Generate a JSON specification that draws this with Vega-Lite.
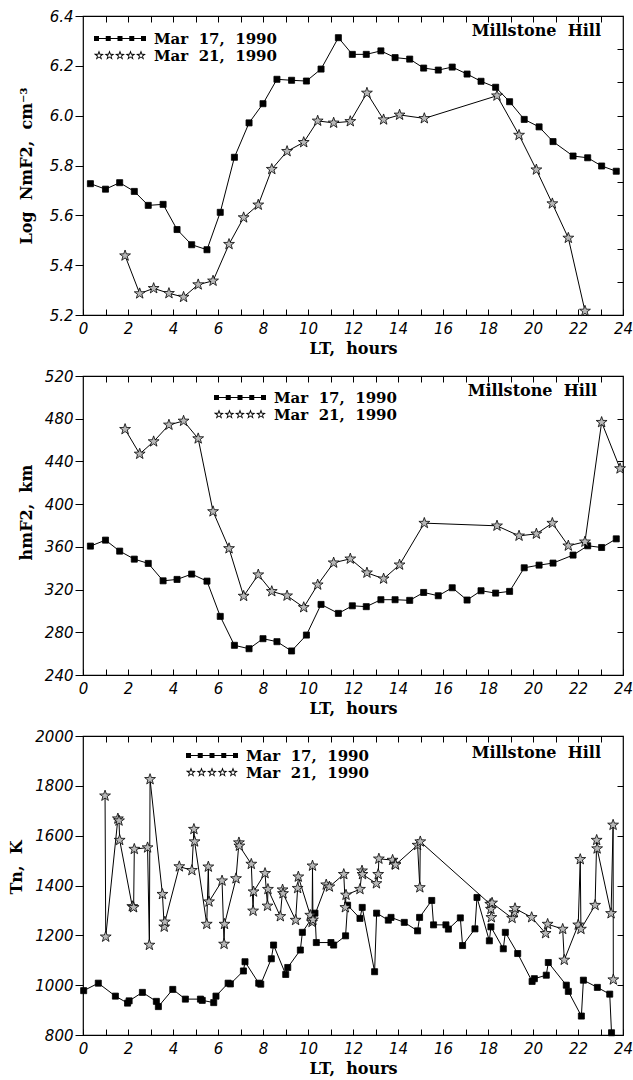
{
  "$schema": "https://vega.github.io/schema/vega-lite/v6.json",
  "background": "white",
  "padding": {"left": 7, "top": 8, "right": 4, "bottom": 4},
  "bounds": "flush",
  "spacing": 61,
  "resolve": {"scale": {"shape": "independent", "fill": "independent"}, "legend": {"shape": "independent", "fill": "independent"}},
  "config": {
    "view": {"stroke": "black", "strokeWidth": 1.2},
    "axis": {
      "labelFont": "DejaVu Sans", "labelFontStyle": "italic", "labelFontSize": 15, "labelColor": "black",
      "titleFont": "DejaVu Serif", "titleFontWeight": "bold", "titleFontSize": 16, "titleColor": "black",
      "tickColor": "black", "tickWidth": 1, "grid": false, "domain": false, "labelFlush": false, "labelOverlap": false
    },
    "title": {"font": "DejaVu Serif", "fontWeight": "bold", "fontSize": 16, "color": "black"},
    "legend": {"labelFont": "DejaVu Serif", "labelFontWeight": "bold", "labelFontSize": 15, "labelColor": "black"}
  },
  "datasets": {
    "p1": [
      {"date":"Mar 17, 1990","lt":0.33,"v":5.727},{"date":"Mar 17, 1990","lt":1.0,"v":5.705},{"date":"Mar 17, 1990","lt":1.63,"v":5.731},
      {"date":"Mar 17, 1990","lt":2.28,"v":5.696},{"date":"Mar 17, 1990","lt":2.9,"v":5.64},{"date":"Mar 17, 1990","lt":3.56,"v":5.644},
      {"date":"Mar 17, 1990","lt":4.18,"v":5.543},{"date":"Mar 17, 1990","lt":4.83,"v":5.482},{"date":"Mar 17, 1990","lt":5.51,"v":5.462},
      {"date":"Mar 17, 1990","lt":6.1,"v":5.612},{"date":"Mar 17, 1990","lt":6.73,"v":5.833},{"date":"Mar 17, 1990","lt":7.38,"v":5.971},
      {"date":"Mar 17, 1990","lt":8.0,"v":6.048},{"date":"Mar 17, 1990","lt":8.62,"v":6.146},{"date":"Mar 17, 1990","lt":9.27,"v":6.142},
      {"date":"Mar 17, 1990","lt":9.93,"v":6.139},{"date":"Mar 17, 1990","lt":10.58,"v":6.187},{"date":"Mar 17, 1990","lt":11.35,"v":6.313},
      {"date":"Mar 17, 1990","lt":11.97,"v":6.246},{"date":"Mar 17, 1990","lt":12.59,"v":6.246},{"date":"Mar 17, 1990","lt":13.24,"v":6.26},
      {"date":"Mar 17, 1990","lt":13.87,"v":6.233},{"date":"Mar 17, 1990","lt":14.52,"v":6.227},{"date":"Mar 17, 1990","lt":15.14,"v":6.191},
      {"date":"Mar 17, 1990","lt":15.79,"v":6.183},{"date":"Mar 17, 1990","lt":16.41,"v":6.195},{"date":"Mar 17, 1990","lt":17.07,"v":6.167},
      {"date":"Mar 17, 1990","lt":17.69,"v":6.138},{"date":"Mar 17, 1990","lt":18.34,"v":6.114},{"date":"Mar 17, 1990","lt":18.96,"v":6.056},
      {"date":"Mar 17, 1990","lt":19.61,"v":5.985},{"date":"Mar 17, 1990","lt":20.27,"v":5.955},{"date":"Mar 17, 1990","lt":20.89,"v":5.896},
      {"date":"Mar 17, 1990","lt":21.78,"v":5.838},{"date":"Mar 17, 1990","lt":22.43,"v":5.831},{"date":"Mar 17, 1990","lt":23.05,"v":5.798},
      {"date":"Mar 17, 1990","lt":23.7,"v":5.777},
      {"date":"Mar 21, 1990","lt":1.87,"v":5.438},{"date":"Mar 21, 1990","lt":2.52,"v":5.286},{"date":"Mar 21, 1990","lt":3.14,"v":5.307},
      {"date":"Mar 21, 1990","lt":3.82,"v":5.287},{"date":"Mar 21, 1990","lt":4.47,"v":5.272},{"date":"Mar 21, 1990","lt":5.12,"v":5.322},
      {"date":"Mar 21, 1990","lt":5.78,"v":5.337},{"date":"Mar 21, 1990","lt":6.49,"v":5.484},{"date":"Mar 21, 1990","lt":7.14,"v":5.591},
      {"date":"Mar 21, 1990","lt":7.79,"v":5.642},{"date":"Mar 21, 1990","lt":8.39,"v":5.785},{"date":"Mar 21, 1990","lt":9.07,"v":5.857},
      {"date":"Mar 21, 1990","lt":9.81,"v":5.893},{"date":"Mar 21, 1990","lt":10.43,"v":5.979},{"date":"Mar 21, 1990","lt":11.14,"v":5.971},
      {"date":"Mar 21, 1990","lt":11.88,"v":5.977},{"date":"Mar 21, 1990","lt":12.62,"v":6.091},{"date":"Mar 21, 1990","lt":13.36,"v":5.984},
      {"date":"Mar 21, 1990","lt":14.07,"v":6.003},{"date":"Mar 21, 1990","lt":15.17,"v":5.989},{"date":"Mar 21, 1990","lt":18.4,"v":6.08},
      {"date":"Mar 21, 1990","lt":19.38,"v":5.922},{"date":"Mar 21, 1990","lt":20.15,"v":5.783},{"date":"Mar 21, 1990","lt":20.86,"v":5.647},
      {"date":"Mar 21, 1990","lt":21.57,"v":5.509},{"date":"Mar 21, 1990","lt":22.31,"v":5.216}
    ],
    "p2": [
      {"date":"Mar 17, 1990","lt":0.33,"v":360.7},{"date":"Mar 17, 1990","lt":1.0,"v":366.3},{"date":"Mar 17, 1990","lt":1.63,"v":356},
      {"date":"Mar 17, 1990","lt":2.28,"v":348.5},{"date":"Mar 17, 1990","lt":2.9,"v":344.5},{"date":"Mar 17, 1990","lt":3.56,"v":328.2},
      {"date":"Mar 17, 1990","lt":4.18,"v":329.5},{"date":"Mar 17, 1990","lt":4.83,"v":334.5},{"date":"Mar 17, 1990","lt":5.51,"v":327.9},
      {"date":"Mar 17, 1990","lt":6.1,"v":294.9},{"date":"Mar 17, 1990","lt":6.73,"v":267.8},{"date":"Mar 17, 1990","lt":7.38,"v":264.6},
      {"date":"Mar 17, 1990","lt":8.0,"v":274},{"date":"Mar 17, 1990","lt":8.62,"v":271.2},{"date":"Mar 17, 1990","lt":9.27,"v":262.5},
      {"date":"Mar 17, 1990","lt":9.93,"v":277.4},{"date":"Mar 17, 1990","lt":10.58,"v":306.1},{"date":"Mar 17, 1990","lt":11.35,"v":297.7},
      {"date":"Mar 17, 1990","lt":11.97,"v":304.8},{"date":"Mar 17, 1990","lt":12.59,"v":304},{"date":"Mar 17, 1990","lt":13.24,"v":310.5},
      {"date":"Mar 17, 1990","lt":13.87,"v":310.5},{"date":"Mar 17, 1990","lt":14.52,"v":309.9},{"date":"Mar 17, 1990","lt":15.14,"v":317.3},
      {"date":"Mar 17, 1990","lt":15.79,"v":314.2},{"date":"Mar 17, 1990","lt":16.41,"v":321.7},{"date":"Mar 17, 1990","lt":17.07,"v":310.2},
      {"date":"Mar 17, 1990","lt":17.69,"v":318.9},{"date":"Mar 17, 1990","lt":18.34,"v":316.7},{"date":"Mar 17, 1990","lt":18.96,"v":318.3},
      {"date":"Mar 17, 1990","lt":19.61,"v":340.4},{"date":"Mar 17, 1990","lt":20.27,"v":342.9},{"date":"Mar 17, 1990","lt":20.89,"v":344.8},
      {"date":"Mar 17, 1990","lt":21.78,"v":352.3},{"date":"Mar 17, 1990","lt":22.43,"v":361},{"date":"Mar 17, 1990","lt":23.05,"v":359.4},
      {"date":"Mar 17, 1990","lt":23.7,"v":367.5},
      {"date":"Mar 21, 1990","lt":1.87,"v":470.1},{"date":"Mar 21, 1990","lt":2.52,"v":447},{"date":"Mar 21, 1990","lt":3.14,"v":458.6},
      {"date":"Mar 21, 1990","lt":3.82,"v":474.2},{"date":"Mar 21, 1990","lt":4.47,"v":477.9},{"date":"Mar 21, 1990","lt":5.12,"v":461.4},
      {"date":"Mar 21, 1990","lt":5.78,"v":393.1},{"date":"Mar 21, 1990","lt":6.49,"v":358.5},{"date":"Mar 21, 1990","lt":7.14,"v":313.9},
      {"date":"Mar 21, 1990","lt":7.79,"v":333.9},{"date":"Mar 21, 1990","lt":8.39,"v":318.3},{"date":"Mar 21, 1990","lt":9.07,"v":314.2},
      {"date":"Mar 21, 1990","lt":9.81,"v":303.3},{"date":"Mar 21, 1990","lt":10.43,"v":324.5},{"date":"Mar 21, 1990","lt":11.14,"v":345.1},
      {"date":"Mar 21, 1990","lt":11.88,"v":348.8},{"date":"Mar 21, 1990","lt":12.62,"v":335.7},{"date":"Mar 21, 1990","lt":13.36,"v":330.1},
      {"date":"Mar 21, 1990","lt":14.07,"v":343.2},{"date":"Mar 21, 1990","lt":15.17,"v":382.2},{"date":"Mar 21, 1990","lt":18.4,"v":379.7},
      {"date":"Mar 21, 1990","lt":19.38,"v":370.3},{"date":"Mar 21, 1990","lt":20.15,"v":372.2},{"date":"Mar 21, 1990","lt":20.86,"v":382.2},
      {"date":"Mar 21, 1990","lt":21.57,"v":361},{"date":"Mar 21, 1990","lt":22.31,"v":364.7},{"date":"Mar 21, 1990","lt":23.05,"v":476.7},
      {"date":"Mar 21, 1990","lt":23.87,"v":433.3}
    ],
    "p3": [
      {"date":"Mar 17, 1990","i":1,"lt":0.03,"v":978},{"date":"Mar 17, 1990","i":2,"lt":0.68,"v":1008},{"date":"Mar 17, 1990","i":3,"lt":1.44,"v":956},
      {"date":"Mar 17, 1990","i":4,"lt":1.98,"v":928},{"date":"Mar 17, 1990","i":5,"lt":2.05,"v":937},{"date":"Mar 17, 1990","i":6,"lt":2.64,"v":971},
      {"date":"Mar 17, 1990","i":7,"lt":3.26,"v":935},{"date":"Mar 17, 1990","i":8,"lt":3.35,"v":914},{"date":"Mar 17, 1990","i":9,"lt":3.99,"v":983},
      {"date":"Mar 17, 1990","i":10,"lt":4.55,"v":944},{"date":"Mar 17, 1990","i":11,"lt":5.22,"v":944},{"date":"Mar 17, 1990","i":12,"lt":5.3,"v":939},
      {"date":"Mar 17, 1990","i":13,"lt":5.81,"v":930},{"date":"Mar 17, 1990","i":14,"lt":5.91,"v":956},{"date":"Mar 17, 1990","i":15,"lt":6.45,"v":1008},
      {"date":"Mar 17, 1990","i":16,"lt":6.55,"v":1005},{"date":"Mar 17, 1990","i":17,"lt":7.13,"v":1057},{"date":"Mar 17, 1990","i":18,"lt":7.2,"v":1094},
      {"date":"Mar 17, 1990","i":19,"lt":7.81,"v":1008},{"date":"Mar 17, 1990","i":20,"lt":7.9,"v":1004},{"date":"Mar 17, 1990","i":21,"lt":8.37,"v":1106},
      {"date":"Mar 17, 1990","i":22,"lt":8.47,"v":1161},{"date":"Mar 17, 1990","i":23,"lt":9.01,"v":1043},{"date":"Mar 17, 1990","i":24,"lt":9.1,"v":1071},
      {"date":"Mar 17, 1990","i":25,"lt":9.66,"v":1141},{"date":"Mar 17, 1990","i":26,"lt":9.75,"v":1212},{"date":"Mar 17, 1990","i":27,"lt":10.31,"v":1289},
      {"date":"Mar 17, 1990","i":28,"lt":10.37,"v":1171},{"date":"Mar 17, 1990","i":29,"lt":11.02,"v":1171},{"date":"Mar 17, 1990","i":30,"lt":11.14,"v":1161},
      {"date":"Mar 17, 1990","i":31,"lt":11.67,"v":1198},{"date":"Mar 17, 1990","i":32,"lt":11.76,"v":1321},{"date":"Mar 17, 1990","i":33,"lt":12.31,"v":1268},
      {"date":"Mar 17, 1990","i":34,"lt":12.41,"v":1312},{"date":"Mar 17, 1990","i":35,"lt":12.96,"v":1054},{"date":"Mar 17, 1990","i":36,"lt":13.05,"v":1289},
      {"date":"Mar 17, 1990","i":37,"lt":13.57,"v":1261},{"date":"Mar 17, 1990","i":38,"lt":13.69,"v":1272},{"date":"Mar 17, 1990","i":39,"lt":14.28,"v":1252},
      {"date":"Mar 17, 1990","i":40,"lt":14.87,"v":1218},{"date":"Mar 17, 1990","i":41,"lt":14.96,"v":1272},{"date":"Mar 17, 1990","i":42,"lt":15.5,"v":1340},
      {"date":"Mar 17, 1990","i":43,"lt":15.58,"v":1242},{"date":"Mar 17, 1990","i":44,"lt":16.13,"v":1242},{"date":"Mar 17, 1990","i":45,"lt":16.24,"v":1225},
      {"date":"Mar 17, 1990","i":46,"lt":16.77,"v":1270},{"date":"Mar 17, 1990","i":47,"lt":16.87,"v":1159},{"date":"Mar 17, 1990","i":48,"lt":17.42,"v":1226},
      {"date":"Mar 17, 1990","i":49,"lt":17.51,"v":1352},{"date":"Mar 17, 1990","i":50,"lt":18.06,"v":1178},{"date":"Mar 17, 1990","i":51,"lt":18.13,"v":1234},
      {"date":"Mar 17, 1990","i":52,"lt":18.68,"v":1146},{"date":"Mar 17, 1990","i":53,"lt":18.77,"v":1212},{"date":"Mar 17, 1990","i":54,"lt":19.32,"v":1127},
      {"date":"Mar 17, 1990","i":55,"lt":19.96,"v":1015},{"date":"Mar 17, 1990","i":56,"lt":20.06,"v":1026},{"date":"Mar 17, 1990","i":57,"lt":20.59,"v":1040},
      {"date":"Mar 17, 1990","i":58,"lt":20.68,"v":1091},{"date":"Mar 17, 1990","i":59,"lt":21.48,"v":1000},{"date":"Mar 17, 1990","i":60,"lt":21.57,"v":975},
      {"date":"Mar 17, 1990","i":61,"lt":22.15,"v":876},{"date":"Mar 17, 1990","i":62,"lt":22.24,"v":1020},{"date":"Mar 17, 1990","i":63,"lt":22.86,"v":991},
      {"date":"Mar 17, 1990","i":64,"lt":23.41,"v":964},{"date":"Mar 17, 1990","i":65,"lt":23.49,"v":809},
      {"date":"Mar 21, 1990","i":1,"lt":0.98,"v":1760},{"date":"Mar 21, 1990","i":2,"lt":1.01,"v":1194},{"date":"Mar 21, 1990","i":3,"lt":1.55,"v":1668},
      {"date":"Mar 21, 1990","i":4,"lt":1.6,"v":1660},{"date":"Mar 21, 1990","i":5,"lt":1.63,"v":1582},{"date":"Mar 21, 1990","i":6,"lt":2.19,"v":1316},
      {"date":"Mar 21, 1990","i":7,"lt":2.25,"v":1312},{"date":"Mar 21, 1990","i":8,"lt":2.28,"v":1546},{"date":"Mar 21, 1990","i":9,"lt":2.87,"v":1552},
      {"date":"Mar 21, 1990","i":10,"lt":2.95,"v":1161},{"date":"Mar 21, 1990","i":11,"lt":2.98,"v":1826},{"date":"Mar 21, 1990","i":12,"lt":3.53,"v":1365},
      {"date":"Mar 21, 1990","i":13,"lt":3.61,"v":1234},{"date":"Mar 21, 1990","i":14,"lt":3.64,"v":1254},{"date":"Mar 21, 1990","i":15,"lt":4.28,"v":1476},
      {"date":"Mar 21, 1990","i":16,"lt":4.84,"v":1461},{"date":"Mar 21, 1990","i":17,"lt":4.93,"v":1626},{"date":"Mar 21, 1990","i":18,"lt":4.96,"v":1576},
      {"date":"Mar 21, 1990","i":19,"lt":5.5,"v":1245},{"date":"Mar 21, 1990","i":20,"lt":5.57,"v":1475},{"date":"Mar 21, 1990","i":21,"lt":5.6,"v":1335},
      {"date":"Mar 21, 1990","i":22,"lt":6.18,"v":1419},{"date":"Mar 21, 1990","i":23,"lt":6.27,"v":1165},{"date":"Mar 21, 1990","i":24,"lt":6.29,"v":1245},
      {"date":"Mar 21, 1990","i":25,"lt":6.8,"v":1428},{"date":"Mar 21, 1990","i":26,"lt":6.93,"v":1572},{"date":"Mar 21, 1990","i":27,"lt":6.95,"v":1559},
      {"date":"Mar 21, 1990","i":28,"lt":7.48,"v":1486},{"date":"Mar 21, 1990","i":29,"lt":7.56,"v":1298},{"date":"Mar 21, 1990","i":30,"lt":7.58,"v":1375},
      {"date":"Mar 21, 1990","i":31,"lt":8.09,"v":1449},{"date":"Mar 21, 1990","i":32,"lt":8.2,"v":1318},{"date":"Mar 21, 1990","i":33,"lt":8.22,"v":1385},
      {"date":"Mar 21, 1990","i":34,"lt":8.77,"v":1276},{"date":"Mar 21, 1990","i":35,"lt":8.87,"v":1383},{"date":"Mar 21, 1990","i":36,"lt":8.89,"v":1368},
      {"date":"Mar 21, 1990","i":37,"lt":9.45,"v":1261},{"date":"Mar 21, 1990","i":38,"lt":9.54,"v":1389},{"date":"Mar 21, 1990","i":39,"lt":9.57,"v":1435},
      {"date":"Mar 21, 1990","i":40,"lt":10.1,"v":1281},{"date":"Mar 21, 1990","i":41,"lt":10.18,"v":1253},{"date":"Mar 21, 1990","i":42,"lt":10.2,"v":1479},
      {"date":"Mar 21, 1990","i":43,"lt":10.22,"v":1262},{"date":"Mar 21, 1990","i":44,"lt":10.81,"v":1403},{"date":"Mar 21, 1990","i":45,"lt":10.95,"v":1395},
      {"date":"Mar 21, 1990","i":46,"lt":11.59,"v":1445},{"date":"Mar 21, 1990","i":47,"lt":11.66,"v":1312},{"date":"Mar 21, 1990","i":48,"lt":11.69,"v":1362},
      {"date":"Mar 21, 1990","i":49,"lt":12.31,"v":1385},{"date":"Mar 21, 1990","i":50,"lt":12.4,"v":1459},{"date":"Mar 21, 1990","i":51,"lt":12.42,"v":1445},
      {"date":"Mar 21, 1990","i":52,"lt":13.04,"v":1408},{"date":"Mar 21, 1990","i":53,"lt":13.12,"v":1445},{"date":"Mar 21, 1990","i":54,"lt":13.15,"v":1507},
      {"date":"Mar 21, 1990","i":55,"lt":13.76,"v":1502},{"date":"Mar 21, 1990","i":56,"lt":13.87,"v":1486},{"date":"Mar 21, 1990","i":57,"lt":13.89,"v":1483},
      {"date":"Mar 21, 1990","i":58,"lt":14.87,"v":1562},{"date":"Mar 21, 1990","i":59,"lt":14.97,"v":1392},{"date":"Mar 21, 1990","i":60,"lt":14.99,"v":1576},
      {"date":"Mar 21, 1990","i":61,"lt":18.1,"v":1325},{"date":"Mar 21, 1990","i":62,"lt":18.13,"v":1305},{"date":"Mar 21, 1990","i":63,"lt":18.15,"v":1272},
      {"date":"Mar 21, 1990","i":64,"lt":18.18,"v":1330},{"date":"Mar 21, 1990","i":65,"lt":19.07,"v":1269},{"date":"Mar 21, 1990","i":66,"lt":19.17,"v":1292},
      {"date":"Mar 21, 1990","i":67,"lt":19.2,"v":1308},{"date":"Mar 21, 1990","i":68,"lt":19.94,"v":1272},{"date":"Mar 21, 1990","i":69,"lt":20.56,"v":1208},
      {"date":"Mar 21, 1990","i":70,"lt":20.65,"v":1245},{"date":"Mar 21, 1990","i":71,"lt":21.32,"v":1225},{"date":"Mar 21, 1990","i":72,"lt":21.39,"v":1101},
      {"date":"Mar 21, 1990","i":73,"lt":22.01,"v":1242},{"date":"Mar 21, 1990","i":74,"lt":22.1,"v":1505},{"date":"Mar 21, 1990","i":75,"lt":22.13,"v":1225},
      {"date":"Mar 21, 1990","i":76,"lt":22.76,"v":1321},{"date":"Mar 21, 1990","i":77,"lt":22.83,"v":1582},{"date":"Mar 21, 1990","i":78,"lt":22.85,"v":1548},
      {"date":"Mar 21, 1990","i":79,"lt":23.47,"v":1288},{"date":"Mar 21, 1990","i":80,"lt":23.56,"v":1643},{"date":"Mar 21, 1990","i":81,"lt":23.57,"v":1022}
    ]
  },
  "vconcat": [
    {
      "width": 540, "height": 299,
      "data": {"name": "p1"},
      "title": {"text": "Millstone\u00a0\u00a0Hill", "anchor": "end", "frame": "group", "offset": -30, "dx": -22},
      "layer": [
        {
          "mark": {"type": "line", "color": "black", "strokeWidth": 1},
          "encoding": {
            "x": {"field": "lt", "type": "quantitative", "scale": {"domain": [0, 24], "nice": false},
              "axis": {"orient": "bottom", "values": [0,1,2,3,4,5,6,7,8,9,10,11,12,13,14,15,16,17,18,19,20,21,22,23,24],
                "labelExpr": "datum.value % 2 === 0 ? datum.label : ''", "tickSize": -6, "labelPadding": 12, "titlePadding": 4,
                "title": "LT,\u00a0\u00a0hours"}},
            "y": {"field": "v", "type": "quantitative", "scale": {"domain": [5.2, 6.4], "nice": false, "zero": false},
              "axis": {"orient": "left", "values": [5.2,5.4,5.6,5.8,6.0,6.2,6.4], "format": ".1f", "tickSize": 8, "labelPadding": 2,
                "title": "Log\u00a0\u00a0NmF2,\u00a0\u00a0cm\u207b\u00b3", "titleX": -49}},
            "detail": {"field": "date"}
          }
        },
        {
          "mark": {"type": "point", "filled": true, "size": 130, "stroke": "black", "strokeWidth": 0.8, "opacity": 1},
          "encoding": {
            "x": {"field": "lt", "type": "quantitative", "scale": {"domain": [0, 24], "nice": false},
              "axis": {"orient": "top", "values": [1,2,3,4,5,6,7,8,9,10,11,12,13,14,15,16,17,18,19,20,21,22,23], "labels": false, "tickSize": -6, "title": null}},
            "y": {"field": "v", "type": "quantitative", "scale": {"domain": [5.2, 6.4], "nice": false, "zero": false},
              "axis": {"orient": "right", "values": [5.3333,5.4667,5.6,5.7333,5.8667,6.0,6.1333,6.2667], "labels": false, "tickSize": -6, "title": null}},
            "shape": {"field": "date", "type": "nominal",
              "scale": {"domain": ["Mar 17, 1990", "Mar 21, 1990"], "range": ["M-0.53 -0.53h1.06v1.06h-1.06z", "M0 -1l0.235 0.676l0.716 0.015l-0.571 0.433l0.208 0.685l-0.588 -0.409l-0.588 0.409l0.208 -0.685l-0.571 -0.433l0.716 -0.015z"]},
              "legend": null},
            "fill": {"field": "date", "type": "nominal",
              "scale": {"domain": ["Mar 17, 1990", "Mar 21, 1990"], "range": ["black", "#b8b8b8"]},
              "legend": null}
          }
        },
        {
          "transform": [{"filter": "false"}],
          "mark": {"type": "point", "filled": true, "opacity": 1},
          "encoding": {
            "x": {"field": "lt", "type": "quantitative", "scale": {"domain": [0, 24], "nice": false}, "axis": null},
            "y": {"field": "v", "type": "quantitative", "scale": {"domain": [5.2, 6.4], "nice": false, "zero": false}, "axis": null},
            "shape": {"field": "date", "type": "nominal",
              "scale": {"domain": ["Mar 17, 1990", "Mar 21, 1990"], "range": ["M-0.94 -0.02h1.88v0.04h-1.88zM-1.04 -0.1h0.2v0.2h-0.2zM-0.57 -0.1h0.2v0.2h-0.2zM-0.1 -0.1h0.2v0.2h-0.2zM0.37 -0.1h0.2v0.2h-0.2zM0.84 -0.1h0.2v0.2h-0.2z", "M-0.84 -0.21l0.049 0.142l0.15 0.003l-0.12 0.091l0.044 0.144l-0.124 -0.086l-0.124 0.086l0.044 -0.144l-0.12 -0.091l0.15 -0.003zM-0.84 -0.105l-0.025 0.071l-0.075 0.002l0.06 0.045l-0.022 0.072l0.062 -0.043l0.062 0.043l-0.022 -0.072l0.06 -0.045l-0.075 -0.002zM-0.42 -0.21l0.049 0.142l0.15 0.003l-0.12 0.091l0.044 0.144l-0.124 -0.086l-0.124 0.086l0.044 -0.144l-0.12 -0.091l0.15 -0.003zM-0.42 -0.105l-0.025 0.071l-0.075 0.002l0.06 0.045l-0.022 0.072l0.062 -0.043l0.062 0.043l-0.022 -0.072l0.06 -0.045l-0.075 -0.002zM0 -0.21l0.049 0.142l0.15 0.003l-0.12 0.091l0.044 0.144l-0.124 -0.086l-0.124 0.086l0.044 -0.144l-0.12 -0.091l0.15 -0.003zM0 -0.105l-0.025 0.071l-0.075 0.002l0.06 0.045l-0.022 0.072l0.062 -0.043l0.062 0.043l-0.022 -0.072l0.06 -0.045l-0.075 -0.002zM0.42 -0.21l0.049 0.142l0.15 0.003l-0.12 0.091l0.044 0.144l-0.124 -0.086l-0.124 0.086l0.044 -0.144l-0.12 -0.091l0.15 -0.003zM0.42 -0.105l-0.025 0.071l-0.075 0.002l0.06 0.045l-0.022 0.072l0.062 -0.043l0.062 0.043l-0.022 -0.072l0.06 -0.045l-0.075 -0.002zM0.84 -0.21l0.049 0.142l0.15 0.003l-0.12 0.091l0.044 0.144l-0.124 -0.086l-0.124 0.086l0.044 -0.144l-0.12 -0.091l0.15 -0.003zM0.84 -0.105l-0.025 0.071l-0.075 0.002l0.06 0.045l-0.022 0.072l0.062 -0.043l0.062 0.043l-0.022 -0.072l0.06 -0.045l-0.075 -0.002z"]},
              "legend": {"title": null, "orient": "none", "legendX": 11, "legendY": 14, "padding": 0, "symbolSize": 2500, "clipHeight": 17, "rowPadding": 0, "labelOffset": 8,
                "labelExpr": "replace(replace(datum.label, ' ', '\u00a0\u00a0'), ' ', '\u00a0\u00a0')"}},
            "fill": {"field": "date", "type": "nominal",
              "scale": {"domain": ["Mar 17, 1990", "Mar 21, 1990"], "range": ["black", "black"]},
              "legend": {"title": null, "orient": "none", "legendX": 11, "legendY": 14, "padding": 0, "symbolSize": 2500, "clipHeight": 17, "rowPadding": 0, "labelOffset": 8,
                "labelExpr": "replace(replace(datum.label, ' ', '\u00a0\u00a0'), ' ', '\u00a0\u00a0')"}}
          }
        }
      ],
      "resolve": {"axis": {"x": "independent", "y": "independent"}, "scale": {"shape": "independent", "fill": "independent"}}
    },
    {
      "width": 540, "height": 299,
      "data": {"name": "p2"},
      "title": {"text": "Millstone\u00a0\u00a0Hill", "anchor": "end", "frame": "group", "offset": -30, "dx": -26},
      "layer": [
        {
          "mark": {"type": "line", "color": "black", "strokeWidth": 1},
          "encoding": {
            "x": {"field": "lt", "type": "quantitative", "scale": {"domain": [0, 24], "nice": false},
              "axis": {"orient": "bottom", "values": [0,1,2,3,4,5,6,7,8,9,10,11,12,13,14,15,16,17,18,19,20,21,22,23,24],
                "labelExpr": "datum.value % 2 === 0 ? datum.label : ''", "tickSize": -6, "labelPadding": 12, "titlePadding": 4,
                "title": "LT,\u00a0\u00a0hours"}},
            "y": {"field": "v", "type": "quantitative", "scale": {"domain": [240, 520], "nice": false, "zero": false},
              "axis": {"orient": "left", "values": [240,280,320,360,400,440,480,520], "tickSize": 8, "labelPadding": 2,
                "title": "hmF2,\u00a0\u00a0km", "titleX": -49, "titleY": 136}},
            "detail": {"field": "date"}
          }
        },
        {
          "mark": {"type": "point", "filled": true, "size": 130, "stroke": "black", "strokeWidth": 0.8, "opacity": 1},
          "encoding": {
            "x": {"field": "lt", "type": "quantitative", "scale": {"domain": [0, 24], "nice": false},
              "axis": {"orient": "top", "values": [1,2,3,4,5,6,7,8,9,10,11,12,13,14,15,16,17,18,19,20,21,22,23], "labels": false, "tickSize": -6, "title": null}},
            "y": {"field": "v", "type": "quantitative", "scale": {"domain": [240, 520], "nice": false, "zero": false},
              "axis": {"orient": "right", "values": [280,320,360,400,440,480], "labels": false, "tickSize": -6, "title": null}},
            "shape": {"field": "date", "type": "nominal",
              "scale": {"domain": ["Mar 17, 1990", "Mar 21, 1990"], "range": ["M-0.53 -0.53h1.06v1.06h-1.06z", "M0 -1l0.235 0.676l0.716 0.015l-0.571 0.433l0.208 0.685l-0.588 -0.409l-0.588 0.409l0.208 -0.685l-0.571 -0.433l0.716 -0.015z"]},
              "legend": null},
            "fill": {"field": "date", "type": "nominal",
              "scale": {"domain": ["Mar 17, 1990", "Mar 21, 1990"], "range": ["black", "#b8b8b8"]},
              "legend": null}
          }
        },
        {
          "transform": [{"filter": "false"}],
          "mark": {"type": "point", "filled": true, "opacity": 1},
          "encoding": {
            "x": {"field": "lt", "type": "quantitative", "scale": {"domain": [0, 24], "nice": false}, "axis": null},
            "y": {"field": "v", "type": "quantitative", "scale": {"domain": [240, 520], "nice": false, "zero": false}, "axis": null},
            "shape": {"field": "date", "type": "nominal",
              "scale": {"domain": ["Mar 17, 1990", "Mar 21, 1990"], "range": ["M-0.94 -0.02h1.88v0.04h-1.88zM-1.04 -0.1h0.2v0.2h-0.2zM-0.57 -0.1h0.2v0.2h-0.2zM-0.1 -0.1h0.2v0.2h-0.2zM0.37 -0.1h0.2v0.2h-0.2zM0.84 -0.1h0.2v0.2h-0.2z", "M-0.84 -0.21l0.049 0.142l0.15 0.003l-0.12 0.091l0.044 0.144l-0.124 -0.086l-0.124 0.086l0.044 -0.144l-0.12 -0.091l0.15 -0.003zM-0.84 -0.105l-0.025 0.071l-0.075 0.002l0.06 0.045l-0.022 0.072l0.062 -0.043l0.062 0.043l-0.022 -0.072l0.06 -0.045l-0.075 -0.002zM-0.42 -0.21l0.049 0.142l0.15 0.003l-0.12 0.091l0.044 0.144l-0.124 -0.086l-0.124 0.086l0.044 -0.144l-0.12 -0.091l0.15 -0.003zM-0.42 -0.105l-0.025 0.071l-0.075 0.002l0.06 0.045l-0.022 0.072l0.062 -0.043l0.062 0.043l-0.022 -0.072l0.06 -0.045l-0.075 -0.002zM0 -0.21l0.049 0.142l0.15 0.003l-0.12 0.091l0.044 0.144l-0.124 -0.086l-0.124 0.086l0.044 -0.144l-0.12 -0.091l0.15 -0.003zM0 -0.105l-0.025 0.071l-0.075 0.002l0.06 0.045l-0.022 0.072l0.062 -0.043l0.062 0.043l-0.022 -0.072l0.06 -0.045l-0.075 -0.002zM0.42 -0.21l0.049 0.142l0.15 0.003l-0.12 0.091l0.044 0.144l-0.124 -0.086l-0.124 0.086l0.044 -0.144l-0.12 -0.091l0.15 -0.003zM0.42 -0.105l-0.025 0.071l-0.075 0.002l0.06 0.045l-0.022 0.072l0.062 -0.043l0.062 0.043l-0.022 -0.072l0.06 -0.045l-0.075 -0.002zM0.84 -0.21l0.049 0.142l0.15 0.003l-0.12 0.091l0.044 0.144l-0.124 -0.086l-0.124 0.086l0.044 -0.144l-0.12 -0.091l0.15 -0.003zM0.84 -0.105l-0.025 0.071l-0.075 0.002l0.06 0.045l-0.022 0.072l0.062 -0.043l0.062 0.043l-0.022 -0.072l0.06 -0.045l-0.075 -0.002z"]},
              "legend": {"title": null, "orient": "none", "legendX": 131, "legendY": 13, "padding": 0, "symbolSize": 2500, "clipHeight": 17, "rowPadding": 0, "labelOffset": 8,
                "labelExpr": "replace(replace(datum.label, ' ', '\u00a0\u00a0'), ' ', '\u00a0\u00a0')"}},
            "fill": {"field": "date", "type": "nominal",
              "scale": {"domain": ["Mar 17, 1990", "Mar 21, 1990"], "range": ["black", "black"]},
              "legend": {"title": null, "orient": "none", "legendX": 131, "legendY": 13, "padding": 0, "symbolSize": 2500, "clipHeight": 17, "rowPadding": 0, "labelOffset": 8,
                "labelExpr": "replace(replace(datum.label, ' ', '\u00a0\u00a0'), ' ', '\u00a0\u00a0')"}}
          }
        }
      ],
      "resolve": {"axis": {"x": "independent", "y": "independent"}, "scale": {"shape": "independent", "fill": "independent"}}
    },
    {
      "width": 540, "height": 299,
      "data": {"name": "p3"},
      "title": {"text": "Millstone\u00a0\u00a0Hill", "anchor": "end", "frame": "group", "offset": -32, "dx": -22},
      "layer": [
        {
          "mark": {"type": "line", "color": "black", "strokeWidth": 1},
          "encoding": {
            "x": {"field": "lt", "type": "quantitative", "scale": {"domain": [0, 24], "nice": false},
              "axis": {"orient": "bottom", "values": [0,1,2,3,4,5,6,7,8,9,10,11,12,13,14,15,16,17,18,19,20,21,22,23,24],
                "labelExpr": "datum.value % 2 === 0 ? datum.label : ''", "tickSize": -6, "labelPadding": 12, "titlePadding": 4,
                "title": "LT,\u00a0\u00a0hours"}},
            "y": {"field": "v", "type": "quantitative", "scale": {"domain": [800, 2000], "nice": false, "zero": false},
              "axis": {"orient": "left", "values": [800,1000,1200,1400,1600,1800,2000], "format": "d", "tickSize": 8, "labelPadding": 2,
                "title": "Tn,\u00a0\u00a0K", "titleX": -59, "titleY": 131}},
            "detail": {"field": "date"},
            "order": {"field": "i"}
          }
        },
        {
          "mark": {"type": "point", "filled": true, "size": 130, "stroke": "black", "strokeWidth": 0.8, "opacity": 1},
          "encoding": {
            "x": {"field": "lt", "type": "quantitative", "scale": {"domain": [0, 24], "nice": false},
              "axis": {"orient": "top", "values": [1,2,3,4,5,6,7,8,9,10,11,12,13,14,15,16,17,18,19,20,21,22,23], "labels": false, "tickSize": -6, "title": null}},
            "y": {"field": "v", "type": "quantitative", "scale": {"domain": [800, 2000], "nice": false, "zero": false},
              "axis": {"orient": "right", "values": [1000,1200,1400,1600,1800], "labels": false, "tickSize": -6, "title": null}},
            "shape": {"field": "date", "type": "nominal",
              "scale": {"domain": ["Mar 17, 1990", "Mar 21, 1990"], "range": ["M-0.53 -0.53h1.06v1.06h-1.06z", "M0 -1l0.235 0.676l0.716 0.015l-0.571 0.433l0.208 0.685l-0.588 -0.409l-0.588 0.409l0.208 -0.685l-0.571 -0.433l0.716 -0.015z"]},
              "legend": null},
            "fill": {"field": "date", "type": "nominal",
              "scale": {"domain": ["Mar 17, 1990", "Mar 21, 1990"], "range": ["black", "#b8b8b8"]},
              "legend": null}
          }
        },
        {
          "transform": [{"filter": "false"}],
          "mark": {"type": "point", "filled": true, "opacity": 1},
          "encoding": {
            "x": {"field": "lt", "type": "quantitative", "scale": {"domain": [0, 24], "nice": false}, "axis": null},
            "y": {"field": "v", "type": "quantitative", "scale": {"domain": [800, 2000], "nice": false, "zero": false}, "axis": null},
            "shape": {"field": "date", "type": "nominal",
              "scale": {"domain": ["Mar 17, 1990", "Mar 21, 1990"], "range": ["M-0.94 -0.02h1.88v0.04h-1.88zM-1.04 -0.1h0.2v0.2h-0.2zM-0.57 -0.1h0.2v0.2h-0.2zM-0.1 -0.1h0.2v0.2h-0.2zM0.37 -0.1h0.2v0.2h-0.2zM0.84 -0.1h0.2v0.2h-0.2z", "M-0.84 -0.21l0.049 0.142l0.15 0.003l-0.12 0.091l0.044 0.144l-0.124 -0.086l-0.124 0.086l0.044 -0.144l-0.12 -0.091l0.15 -0.003zM-0.84 -0.105l-0.025 0.071l-0.075 0.002l0.06 0.045l-0.022 0.072l0.062 -0.043l0.062 0.043l-0.022 -0.072l0.06 -0.045l-0.075 -0.002zM-0.42 -0.21l0.049 0.142l0.15 0.003l-0.12 0.091l0.044 0.144l-0.124 -0.086l-0.124 0.086l0.044 -0.144l-0.12 -0.091l0.15 -0.003zM-0.42 -0.105l-0.025 0.071l-0.075 0.002l0.06 0.045l-0.022 0.072l0.062 -0.043l0.062 0.043l-0.022 -0.072l0.06 -0.045l-0.075 -0.002zM0 -0.21l0.049 0.142l0.15 0.003l-0.12 0.091l0.044 0.144l-0.124 -0.086l-0.124 0.086l0.044 -0.144l-0.12 -0.091l0.15 -0.003zM0 -0.105l-0.025 0.071l-0.075 0.002l0.06 0.045l-0.022 0.072l0.062 -0.043l0.062 0.043l-0.022 -0.072l0.06 -0.045l-0.075 -0.002zM0.42 -0.21l0.049 0.142l0.15 0.003l-0.12 0.091l0.044 0.144l-0.124 -0.086l-0.124 0.086l0.044 -0.144l-0.12 -0.091l0.15 -0.003zM0.42 -0.105l-0.025 0.071l-0.075 0.002l0.06 0.045l-0.022 0.072l0.062 -0.043l0.062 0.043l-0.022 -0.072l0.06 -0.045l-0.075 -0.002zM0.84 -0.21l0.049 0.142l0.15 0.003l-0.12 0.091l0.044 0.144l-0.124 -0.086l-0.124 0.086l0.044 -0.144l-0.12 -0.091l0.15 -0.003zM0.84 -0.105l-0.025 0.071l-0.075 0.002l0.06 0.045l-0.022 0.072l0.062 -0.043l0.062 0.043l-0.022 -0.072l0.06 -0.045l-0.075 -0.002z"]},
              "legend": {"title": null, "orient": "none", "legendX": 103, "legendY": 11, "padding": 0, "symbolSize": 2500, "clipHeight": 17, "rowPadding": 0, "labelOffset": 8,
                "labelExpr": "replace(replace(datum.label, ' ', '\u00a0\u00a0'), ' ', '\u00a0\u00a0')"}},
            "fill": {"field": "date", "type": "nominal",
              "scale": {"domain": ["Mar 17, 1990", "Mar 21, 1990"], "range": ["black", "black"]},
              "legend": {"title": null, "orient": "none", "legendX": 103, "legendY": 11, "padding": 0, "symbolSize": 2500, "clipHeight": 17, "rowPadding": 0, "labelOffset": 8,
                "labelExpr": "replace(replace(datum.label, ' ', '\u00a0\u00a0'), ' ', '\u00a0\u00a0')"}}
          }
        }
      ],
      "resolve": {"axis": {"x": "independent", "y": "independent"}, "scale": {"shape": "independent", "fill": "independent"}}
    }
  ]
}
